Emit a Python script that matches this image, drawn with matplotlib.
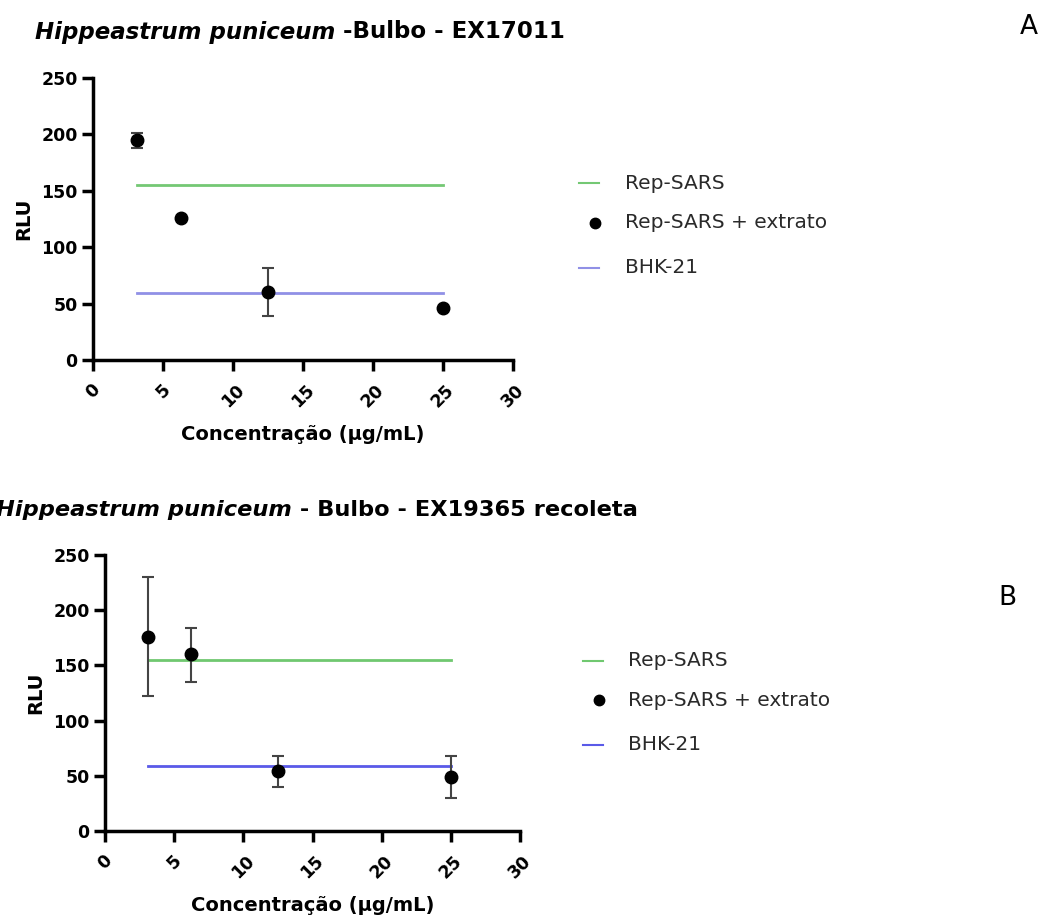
import matplotlib
matplotlib.use("Agg")
import matplotlib.pyplot as plt
from matplotlib.lines import Line2D

plt.rcParams['font.family'] = ['DejaVu Sans']

# Panel A data
conc_a = [3.125, 6.25, 12.5, 25]
rlu_a = [195, 126, 60, 46]
err_lo_a = [7, 0, 21, 0]
err_hi_a = [6, 0, 22, 0]
rep_sars_a = 155
bhk_a = 59

# Panel B data
conc_b = [3.125, 6.25, 12.5, 25]
rlu_b = [176, 160, 54, 49]
err_lo_b = [54, 25, 14, 19]
err_hi_b = [54, 24, 14, 19]
rep_sars_b = 155
bhk_b = 58.5

line_range = [3.125, 25]
xticks = [0, 5, 10, 15, 20, 25, 30]
yticks = [0, 50, 100, 150, 200, 250]

legend_labels = ["Rep-SARS", "Rep-SARS + extrato", "BHK-21"]

fig = plt.figure(figsize=(10.43, 9.19), dpi=100)
W, H = 1043, 919

def px_ax(l, r, b, t):
    return fig.add_axes([l / W, 1 - b / H, (r - l) / W, (b - t) / H])

ax_a = px_ax(93, 513, 360, 78)
ax_b = px_ax(105, 520, 831, 555)

def style(ax, green, blue, conc, rlu, lo, hi, rep, bhk):
    ax.plot(line_range, [rep, rep], color=green, lw=2, zorder=2)
    ax.plot(line_range, [bhk, bhk], color=blue, lw=2, zorder=2)
    ax.errorbar(conc, rlu, yerr=[lo, hi], fmt='none', ecolor='#444444',
                elinewidth=1.5, capsize=4, capthick=1.5, zorder=3)
    ax.plot(conc, rlu, 'o', color='black', ms=9, zorder=4)
    ax.set_xlim(0, 30)
    ax.set_ylim(0, 250)
    ax.set_xticks(xticks)
    ax.set_yticks(yticks)
    ax.set_xticklabels([str(v) for v in xticks], rotation=45, ha='center',
                       fontsize=12.5, fontweight='bold')
    ax.set_yticklabels([str(v) for v in yticks], fontsize=12.5, fontweight='bold')
    for s in ['top', 'right']:
        ax.spines[s].set_visible(False)
    for s in ['left', 'bottom']:
        ax.spines[s].set_linewidth(2.5)
    ax.tick_params(axis='both', length=8, width=2.5, direction='out', pad=3)
    ax.tick_params(axis='x', pad=7)
    ax.set_ylabel("RLU", fontsize=14, fontweight='bold', labelpad=6)
    ax.set_xlabel("Concentração (µg/mL)", fontsize=14, fontweight='bold', labelpad=10)

style(ax_a, '#74c874', '#9090e6', conc_a, rlu_a, err_lo_a, err_hi_a, rep_sars_a, bhk_a)
style(ax_b, '#70c870', '#5a5ae8', conc_b, rlu_b, err_lo_b, err_hi_b, rep_sars_b, bhk_b)

def legend(x_line, x_text, ys, green, blue):
    handles = [
        Line2D([x_line / W, (x_line + 20) / W], [1 - ys[0] / H] * 2, color=green, lw=1.5,
               transform=fig.transFigure),
        Line2D([(x_line + 16) / W], [1 - ys[1] / H], marker='o', color='black', ms=7.5,
               transform=fig.transFigure, linestyle='none'),
        Line2D([x_line / W, (x_line + 20) / W], [1 - ys[2] / H] * 2, color=blue, lw=1.5,
               transform=fig.transFigure),
    ]
    for h in handles:
        fig.add_artist(h)
    for y, lab in zip(ys, legend_labels):
        fig.text(x_text / W, 1 - y / H, lab, fontsize=14.5, color='#2a2a2a', va='center', ha='left')

legend(579, 625, [183, 223, 268], '#74c874', '#9090e6')
legend(583, 628, [661, 700, 745], '#70c870', '#5a5ae8')

fig.text(1029 / W, 1 - 27 / H, "A", fontsize=19, ha='center', va='center')
fig.text(1007 / W, 1 - 598 / H, "B", fontsize=19, ha='center', va='center')

def mixed_title(x0, y, parts, size):
    fig.canvas.draw()
    r = fig.canvas.get_renderer()
    x = x0 / W
    for txt, style_ in parts:
        t = fig.text(x, 1 - y / H, txt, fontsize=size, fontweight='bold', style=style_,
                     va='center', ha='left')
        bb = t.get_window_extent(renderer=r)
        x = bb.x1 / W

mixed_title(35, 32, [("Hippeastrum puniceum", 'italic'), (" -Bulbo - EX17011", 'normal')], 16.5)
mixed_title(-4, 510, [("Hippeastrum puniceum", 'italic'), (" - Bulbo - EX19365 recoleta", 'normal')], 16.2)

fig.savefig("out.png", dpi=100, facecolor='white')
